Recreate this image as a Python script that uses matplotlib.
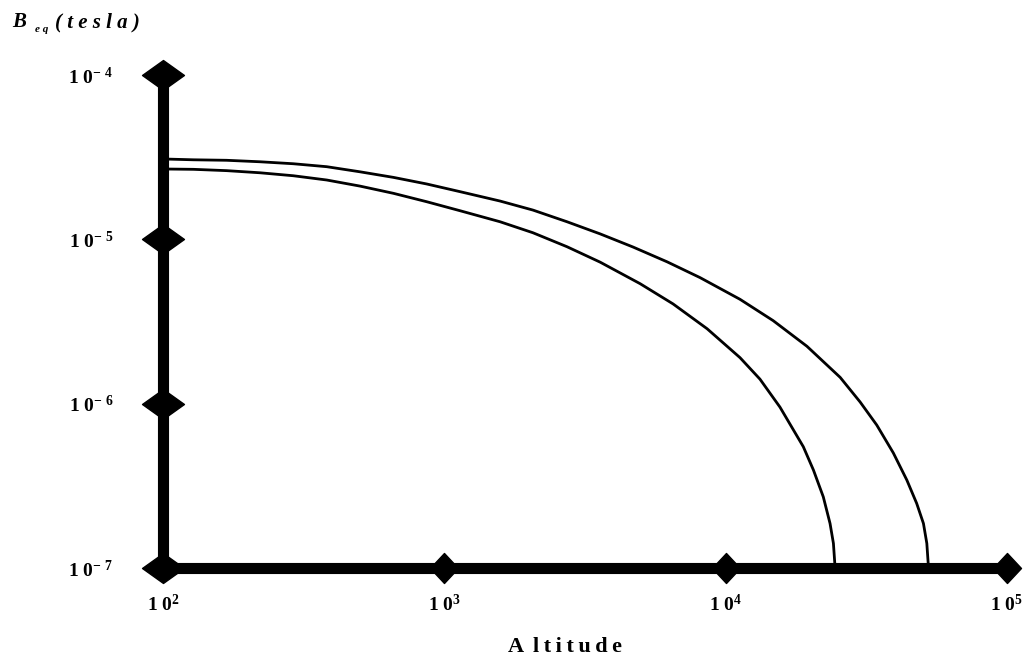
import matplotlib
matplotlib.use("Agg")
import matplotlib.pyplot as plt
from matplotlib.path import Path
import numpy as np

# ---- data (as powers of ten: log10 of altitude, log10 of B_eq) ----
alt_upper_exp = [2.000, 2.108, 2.226, 2.345, 2.463, 2.582, 2.700, 2.819, 2.937, 3.056,
                 3.198, 3.315, 3.436, 3.554, 3.671, 3.792, 3.909, 4.051, 4.169, 4.289,
                 4.407, 4.478, 4.537, 4.596, 4.644, 4.679, 4.703, 4.715, 4.721]
b_upper_exp = [-4.511, -4.516, -4.519, -4.528, -4.540, -4.558, -4.589, -4.623, -4.663, -4.710,
               -4.767, -4.822, -4.893, -4.967, -5.047, -5.137, -5.233, -5.365, -5.495, -5.651,
               -5.840, -5.990, -6.130, -6.300, -6.465, -6.607, -6.729, -6.850, -7.000]

alt_lower_exp = [2.000, 2.108, 2.226, 2.345, 2.463, 2.582, 2.700, 2.819, 2.937, 3.056,
                 3.198, 3.315, 3.436, 3.554, 3.696, 3.813, 3.934, 4.051, 4.122, 4.193,
                 4.276, 4.312, 4.347, 4.371, 4.383, 4.389]
b_lower_exp = [-4.572, -4.574, -4.582, -4.595, -4.613, -4.639, -4.676, -4.720, -4.771, -4.826,
               -4.893, -4.960, -5.045, -5.139, -5.270, -5.393, -5.544, -5.720, -5.851, -6.021,
               -6.262, -6.404, -6.567, -6.729, -6.850, -7.000]

x_ticks = [1e2, 1e3, 1e4, 1e5]
x_exps = ["2", "3", "4", "5"]
y_ticks = [1e-7, 1e-6, 1e-5, 1e-4]
y_exps = ["7", "6", "5", "4"]

plt.rcParams['mathtext.fontset'] = 'custom'
plt.rcParams['mathtext.rm'] = 'Liberation Serif:bold'
plt.rcParams['mathtext.bf'] = 'Liberation Serif:bold'
plt.rcParams['mathtext.it'] = 'Liberation Serif:italic:bold'
plt.rcParams['font.family'] = ['Liberation Serif', 'DejaVu Serif']

W, H = 1023, 662
fig = plt.figure(figsize=(W / 100, H / 100), dpi=100)
ax = fig.add_axes([163 / W, 1 - 568 / H, (1007 - 163) / W, (568 - 75) / H])
ax.set_xscale('log')
ax.set_yscale('log')
ax.set_xlim(1e2, 1e5)
ax.set_ylim(1e-7, 1e-4)

for s in ['top', 'right']:
    ax.spines[s].set_visible(False)
for s in ['left', 'bottom']:
    ax.spines[s].set_linewidth(8)
    ax.spines[s].set_color('black')
    ax.spines[s].set_zorder(4)
    ax.spines[s].set_capstyle('butt')

ax.plot(10 ** np.array(alt_upper_exp), 10 ** np.array(b_upper_exp),
        color='black', lw=2.0, zorder=3, clip_on=False, solid_joinstyle='round')
ax.plot(10 ** np.array(alt_lower_exp), 10 ** np.array(b_lower_exp),
        color='black', lw=2.0, zorder=3, clip_on=False, solid_joinstyle='round')

# diamond markers on axes
ydiam = Path([(-1, 0), (0, 0.714), (1, 0), (0, -0.714), (-1, 0)],
             [Path.MOVETO, Path.LINETO, Path.LINETO, Path.LINETO, Path.CLOSEPOLY])
xdiam = Path([(-0.933, 0), (0, 1), (0.933, 0), (0, -1), (-0.933, 0)],
             [Path.MOVETO, Path.LINETO, Path.LINETO, Path.LINETO, Path.CLOSEPOLY])
ax.plot(x_ticks[1:], [1e-7] * 3, linestyle='none', marker=xdiam, markersize=21.6,
        color='black', clip_on=False, zorder=5)
ax.plot([1e2] * 4, y_ticks, linestyle='none', marker=ydiam, markersize=30.2,
        color='black', clip_on=False, zorder=5)

ax.minorticks_off()
ax.set_xticks(x_ticks)
ax.set_xticklabels([r"$\mathrm{1\ 0}^{\mathrm{%s}}$" % e for e in x_exps])
ax.set_yticks(y_ticks)
ax.set_yticklabels([r"$\mathrm{1\ 0}^{\mathrm{-\ %s}}$" % e for e in y_exps])
ax.tick_params(axis='x', length=0, pad=19, labelsize=14)
ax.tick_params(axis='y', length=0, pad=36, labelsize=14)

fig.text(565 / W, 1 - 647 / H, "A \u2009l\u2009t\u2009i\u2009t\u2009u\u2009d\u2009e", ha='center', va='center',
         fontsize=16, fontweight='bold', family='Liberation Serif')
fig.text(12 / W, 1 - 27 / H, "B", ha='left', va='baseline', fontsize=15,
         fontweight='bold', fontstyle='italic', family='Liberation Serif')
fig.text(35 / W, 1 - 32 / H, "e q", ha='left', va='baseline', fontsize=8,
         fontweight='bold', fontstyle='italic', family='Liberation Serif')
fig.text(55 / W, 1 - 27 / H, "( t e s l a )", ha='left', va='baseline', fontsize=15,
         fontweight='bold', fontstyle='italic', family='Liberation Serif')

fig.savefig('out.png', dpi=100)
